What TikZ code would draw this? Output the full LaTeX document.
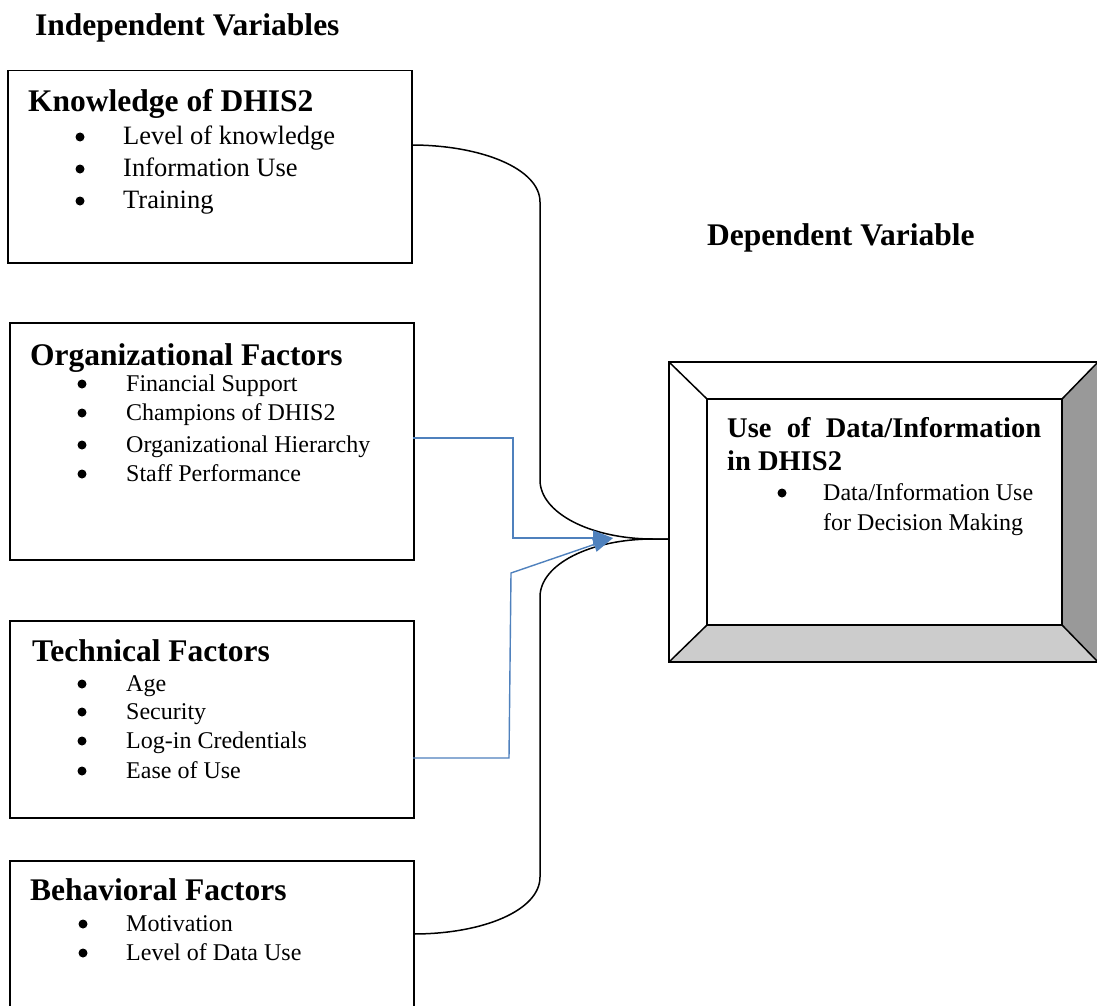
\documentclass[tikz,border=0pt]{standalone}
\usepackage{fontspec}
\setmainfont{Liberation Serif}
\usetikzlibrary{arrows.meta}
\definecolor{blu}{HTML}{4F81BD}
\definecolor{dgray}{HTML}{999999}
\definecolor{lgray}{HTML}{CCCCCC}
\newcommand\hdfont{\fontsize{31.5}{36}\selectfont\bfseries}
\newcommand\bigitem{\fontsize{26.5}{30}\selectfont}
\newcommand\smitem{\fontsize{24}{28}\selectfont}
\begin{document}
\begin{tikzpicture}[x=1pt,y=-1pt,
  box/.style={draw,line width=1.5pt,anchor=north west,inner sep=0pt},
  lbl/.style={anchor=base west,inner sep=0pt},
  hd/.style={lbl,font=\hdfont},
  dot/.style={circle,fill=black,inner sep=0pt,minimum size=9pt},
  brace/.style={draw,line width=1.5pt},
  bluarrow/.style={draw=blu,-{Triangle[length=20pt,width=15pt]}}]
\useasboundingbox (0,0) rectangle (1097,1006);
\clip (0,0) rectangle (1097,1006);
\fill[white] (0,0) rectangle (1097,1006);

% titles
\node[hd] (iv) at (35,36) {Independent Variables};
\node[hd] (dvt) at (707,245) {Dependent Variable};

% box 1
\node[box,minimum width=404pt,minimum height=192pt] (b1) at (7,70) {};
\node[hd] (b1h) at (28,112) {Knowledge of DHIS2};
\foreach \t/\y [count=\i] in {Level of knowledge/144,Information Use/176,Training/208}{
  \node[dot] (b1d\i) at (80,\y-7) {};
  \node[lbl,font=\bigitem] (b1t\i) at (123,\y) {\t};
}

% box 2
\node[box,minimum width=404pt,minimum height=237pt] (b2) at (9,322) {};
\node[hd] (b2h) at (30,365) {Organizational Factors};
\foreach \t/\y [count=\i] in {Financial Support/391,Champions of DHIS2/420,Organizational Hierarchy/452,Staff Performance/481}{
  \node[dot] (b2d\i) at (82,\y-7) {};
  \node[lbl,font=\smitem] (b2t\i) at (126,\y) {\t};
}

% box 3
\node[box,minimum width=404pt,minimum height=197pt] (b3) at (9,620) {};
\node[hd] (b3h) at (32,661) {Technical Factors};
\foreach \t/\y [count=\i] in {Age/691,Security/719,Log-in Credentials/748,Ease of Use/778}{
  \node[dot] (b3d\i) at (82,\y-7) {};
  \node[lbl,font=\smitem] (b3t\i) at (126,\y) {\t};
}

% box 4
\node[box,minimum width=404pt,minimum height=170pt] (b4) at (9,860) {};
\node[hd] (b4h) at (30,900) {Behavioral Factors};
\foreach \t/\y [count=\i] in {Motivation/931,Level of Data Use/960}{
  \node[dot] (b4d\i) at (83,\y-7) {};
  \node[lbl,font=\smitem] (b4t\i) at (126,\y) {\t};
}

% bevel box
\coordinate (o1) at (669,362);
\coordinate (o2) at (1098,362);
\coordinate (o3) at (1098,662);
\coordinate (o4) at (669,662);
\coordinate (i1) at (707,399);
\coordinate (i2) at (1062,399);
\coordinate (i3) at (1062,625);
\coordinate (i4) at (707,625);
\fill[dgray] (o2) -- (o3) -- (i3) -- (i2) -- cycle;
\fill[lgray] (o4) -- (o3) -- (i3) -- (i4) -- cycle;
\draw[line width=1.5pt] (o1) -- (o2) -- (o3) -- (o4) -- cycle;
\draw[line width=1.5pt] (i1) -- (i2) -- (i3) -- (i4) -- cycle;
\draw[line width=1.5pt] (o1) -- (i1) (o2) -- (i2) (o3) -- (i3) (o4) -- (i4);
\node[inner sep=0pt,minimum width=429pt,minimum height=300pt,anchor=north west] (dv) at (669,362) {};
\node[lbl,font={\fontsize{28.5}{32}\selectfont\bfseries}] (dvh1) at (727,437) {\makebox[314pt][s]{Use of Data/Information}};
\node[lbl,font={\fontsize{28.5}{32}\selectfont\bfseries}] (dvh2) at (727,470) {in DHIS2};
\node[dot] (dvd) at (782,493) {};
\node[lbl,font=\smitem] (dvt1) at (823,500) {Data/Information Use};
\node[lbl,font=\smitem] (dvt2) at (823,530) {for Decision Making};

% brace connectors
\coordinate (tip) at (669,539);
\coordinate (k1) at (411,145);
\coordinate (k4) at (413,934);
\draw[brace] (k1) .. controls (482,145) and (540,169) .. (540,202)
  -- (540,480) .. controls (540,513) and (591,539) .. (653,539) -- (tip);
\draw[brace] (tip) -- (653,539) .. controls (591,539) and (540,564) .. (540,597)
  -- (540,877) .. controls (540,910) and (484,934) .. (k4);

% blue arrows
\coordinate (a1) at (413,438);
\coordinate (a2) at (413,758);
\coordinate (ah) at (613,538);
\draw[bluarrow,line width=2pt] (a1) -- (513,438) -- (513,538) -- (ah);
\draw[bluarrow,line width=1.4pt] (a2) -- (509,758) -- (511,573) -- (ah);
\end{tikzpicture}
\end{document}
